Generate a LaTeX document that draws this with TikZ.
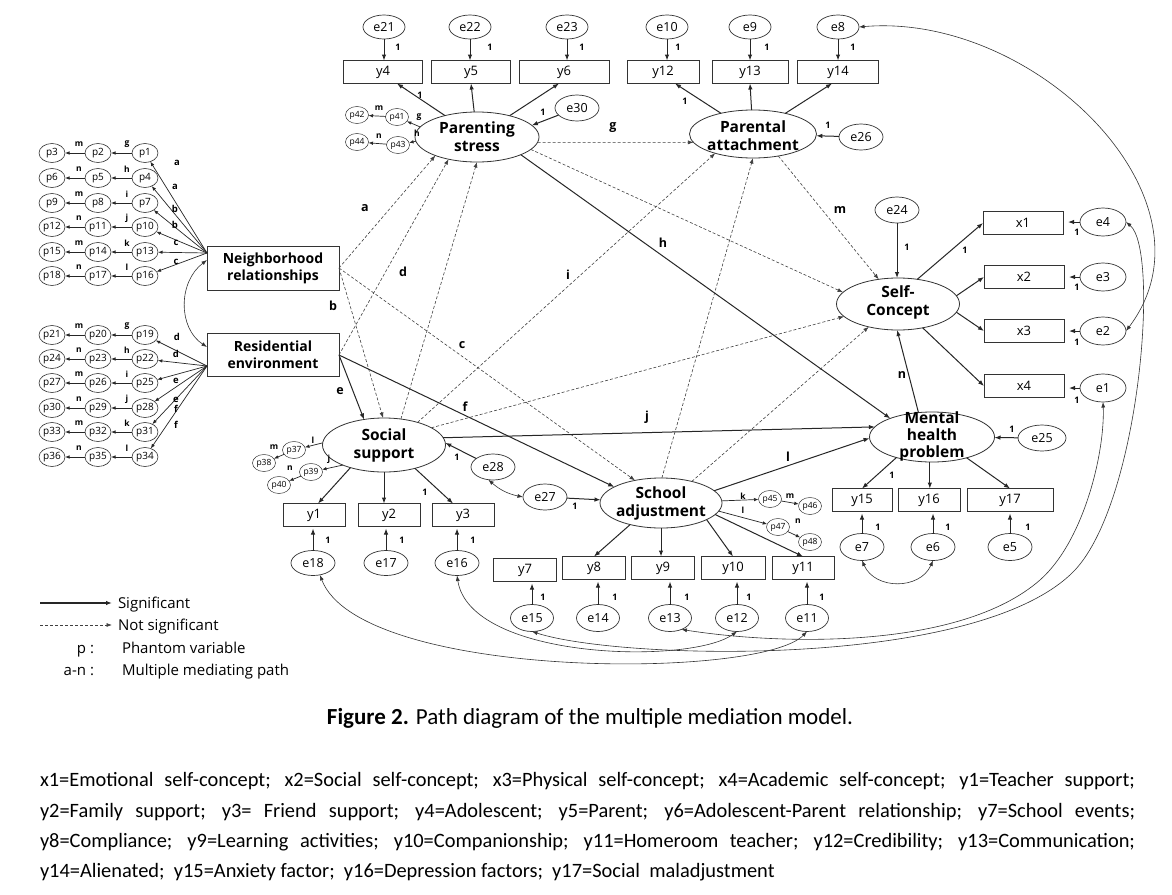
\documentclass[tikz,border=0pt]{standalone}
\usepackage{fontspec}
\setmainfont{Open Sans}
\newfontfamily\capfont{Carlito}
\usetikzlibrary{shapes.geometric,arrows.meta,calc}
\tikzset{
  every node/.style={inner sep=0pt, outer sep=0pt},
  lat/.style={ellipse, draw=black!80, line width=0.8pt},
  lattxt/.style={align=center, font=\fontsize{15.5}{18}\selectfont\bfseries},
  boxtxt/.style={rectangle, draw=black!80, line width=0.8pt, align=center, font=\fontsize{14}{17}\selectfont\bfseries},
  err/.style={ellipse, draw=black!80, line width=0.7pt, minimum width=44pt, minimum height=26pt, font=\fontsize{12.5}{14}\selectfont},
  ph/.style={ellipse, draw=black!80, line width=0.6pt, minimum width=26pt, minimum height=19pt, font=\fontsize{10}{11}\selectfont},
  sph/.style={ellipse, draw=black!80, line width=0.5pt, minimum width=23pt, minimum height=17pt, font=\fontsize{8.5}{9}\selectfont},
  ind/.style={rectangle, draw=black!80, line width=0.8pt, minimum height=23pt, font=\fontsize{13}{15}\selectfont},
  one/.style={font=\fontsize{9}{10}\selectfont\bfseries},
  plab/.style={font=\fontsize{12.5}{13}\selectfont\bfseries},
  slab/.style={font=\fontsize{8.5}{9}\selectfont\bfseries},
  leg/.style={font=\fontsize{15}{17}\selectfont},
  arr/.style={draw=black!85, line width=1pt, -{Latex[length=6pt,width=4.5pt]}},
  darr/.style={draw=black!75, line width=0.6pt, dash pattern=on 3pt off 2pt, -{Latex[length=5.5pt,width=4pt]}},
  sarr/.style={draw=black!85, line width=0.7pt, -{Latex[length=4.5pt,width=3.5pt]}},
  cov/.style={draw=black!80, line width=0.6pt, {Latex[length=5.5pt,width=4pt]}-{Latex[length=5.5pt,width=4pt]}},
  note/.style={anchor=west, font=\capfont\fontsize{20.4}{23}\selectfont},
}
\begin{document}
\begin{tikzpicture}[x=1pt,y=-1pt]
\useasboundingbox (0,0) rectangle (1172,894);
\fill[white] (0,0) rectangle (1172,894);

% ---- latent variables
\node[lat, minimum width=124pt, minimum height=50pt] (PS) at (477,137) {};
\node[lattxt] (PSt) at (477,137) {Parenting\\stress};
\node[lat, minimum width=127pt, minimum height=48pt] (PA) at (753,134) {};
\node[lattxt] (PAt) at (753,136) {Parental\\attachment};
\node[lat, minimum width=123pt, minimum height=54pt] (SS) at (384,445) {};
\node[lattxt] (SSt) at (384,445) {Social\\support};
\node[lat, minimum width=122pt, minimum height=50pt] (SA) at (661,503) {};
\node[lattxt] (SAt) at (661,503) {School\\adjustment};
\node[lat, minimum width=123pt, minimum height=52pt] (SC) at (898,304) {};
\node[lattxt] (SCt) at (898,302) {Self-\\Concept};
\node[lat, minimum width=125pt, minimum height=50pt] (MH) at (932,437) {};
\node[lattxt, font=\fontsize{15.5}{17}\selectfont\bfseries] (MHt) at (932,436) {Mental\\health\\problem};

% ---- exogenous boxes
\node[boxtxt, minimum width=132pt, minimum height=44pt] (NR) at (273,268) {Neighborhood\\relationships};
\node[boxtxt, minimum width=132pt, minimum height=43pt] (RE) at (273,355) {Residential\\environment};

% ---- indicators
\node[ind, minimum width=79pt] (y4) at (383,72) {y4};
\node[ind, minimum width=79pt] (y5) at (471,72) {y5};
\node[ind, minimum width=90pt] (y6) at (564,72) {y6};
\node[ind, minimum width=72pt] (y12) at (663,72) {y12};
\node[ind, minimum width=76pt] (y13) at (750,72) {y13};
\node[ind, minimum width=81pt] (y14) at (838,72) {y14};
\node[ind, minimum width=62pt] (y1) at (314,515) {y1};
\node[ind, minimum width=62pt] (y2) at (389,515) {y2};
\node[ind, minimum width=62pt] (y3) at (463,515) {y3};
\node[ind, minimum width=63pt] (y7) at (525,570) {y7};
\node[ind, minimum width=63pt] (y8) at (594,568) {y8};
\node[ind, minimum width=63pt] (y9) at (663,568) {y9};
\node[ind, minimum width=64pt] (y10) at (733,568) {y10};
\node[ind, minimum width=62pt] (y11) at (803,568) {y11};
\node[ind, minimum width=60pt] (y15) at (862,500) {y15};
\node[ind, minimum width=62pt] (y16) at (929,500) {y16};
\node[ind, minimum width=86pt] (y17) at (1010,500) {y17};
\node[ind, minimum width=80pt] (x1) at (1023,223) {x1};
\node[ind, minimum width=80pt] (x2) at (1024,277) {x2};
\node[ind, minimum width=80pt] (x3) at (1024,331) {x3};
\node[ind, minimum width=80pt] (x4) at (1024,386) {x4};

% ---- error terms
\foreach \n/\x in {e21/384,e22/470,e23/567,e10/667,e9/750,e8/838}
  \node[err, minimum width=42pt, minimum height=24pt] (\n) at (\x,27) {\n};
\foreach \n/\x in {e18/313,e17/386,e16/457}
  \node[err, minimum height=25pt] (\n) at (\x,563) {\n};
\foreach \n/\x in {e15/532,e14/598,e13/670,e12/737,e11/807}
  \node[err, minimum width=43pt, minimum height=27pt] (\n) at (\x,618) {\n};
\foreach \n/\x in {e7/862,e6/933,e5/1010}
  \node[err, minimum height=27pt] (\n) at (\x,547) {\n};
\foreach \n/\y in {e4/222,e3/277,e2/331,e1/388}
  \node[err, minimum width=46pt, minimum height=28pt] (\n) at (1103,\y) {\n};
\node[err] (e24) at (897,210) {e24};
\node[err, minimum width=48pt] (e25) at (1042,438) {e25};
\node[err] (e26) at (861,137) {e26};
\node[err] (e27) at (545,497) {e27};
\node[err] (e28) at (493,467) {e28};
\node[err] (e30) at (577,108) {e30};

% ---- left phantom variables
\foreach \r/\y/\f/\s in {0/153/g/m,1/178/h/n,2/203/i/m,3/227/j/n,4/252/k/m,5/276/l/n,
                         6/335/g/m,7/359/h/n,8/383/i/m,9/408/j/n,10/432/k/m,11/457/l/n}{
  \pgfmathtruncatemacro{\na}{3*\r+1}
  \pgfmathtruncatemacro{\nb}{3*\r+2}
  \pgfmathtruncatemacro{\nc}{3*\r+3}
  \node[ph] (p\na) at (145,\y) {p\na};
  \node[ph] (p\nb) at (98,\y) {p\nb};
  \node[ph] (p\nc) at (52,\y) {p\nc};
  \draw[sarr] (p\na) -- (p\nb);
  \draw[sarr] (p\nb) -- (p\nc);
  \node[slab] (lf\na) at (127,\y-9) {\f};
  \node[slab] (ls\na) at (79,\y-9) {\s};
}
\coordinate (nrc) at (207,253);
\coordinate (rec) at (207,366);
\foreach \k in {1,4,7,10,13,16} \draw[sarr] (nrc) -- (p\k);
\foreach \k in {19,22,25,28,31,34} \draw[sarr] (rec) -- (p\k);
\foreach \t/\x/\y [count=\c] in {a/177/163,a/175/187,b/175/209,b/175/225,c/176/243,c/176/262,
                                 d/177/337,d/176/354,e/176/381,e/176/400,f/176/409,f/176/425}
  \node[font=\fontsize{9.5}{10}\selectfont\bfseries] (pl\c) at (\x,\y) {\t};
\draw[cov] ([yshift=8pt]NR.west) .. controls (178,282) and (178,328) .. ([yshift=8pt]RE.west);

% ---- small phantoms
\node[sph] (p41) at (397,117) {p41};
\node[sph] (p42) at (357,115) {p42};
\node[sph] (p43) at (398,145) {p43};
\node[sph] (p44) at (357,142) {p44};
\draw[sarr] (PS.170) -- (p41); \draw[sarr] (PS.184) -- (p43);
\draw[sarr] (p41) -- (p42); \draw[sarr] (p43) -- (p44);
\node[slab] (l41m) at (379,108) {m}; \node[slab] (l41g) at (419,117) {g};
\node[slab] (l43n) at (379,136) {n}; \node[slab] (l43h) at (417,133) {h};

\node[sph] (p37) at (294,450) {p37};
\node[sph] (p38) at (264,463) {p38};
\node[sph] (p39) at (311,472) {p39};
\node[sph] (p40) at (279,485) {p40};
\draw[sarr] (SS.178) -- (p37); \draw[sarr] (SS.206) -- (p39);
\draw[sarr] (p37) -- (p38); \draw[sarr] (p39) -- (p40);
\node[slab] (l37l) at (313,440) {l}; \node[slab] (l37m) at (274,447) {m};
\node[slab] (l39j) at (329,459) {j}; \node[slab] (l39n) at (290,468) {n};

\node[sph] (p45) at (770,499) {p45};
\node[sph] (p46) at (810,506) {p46};
\node[sph] (p47) at (778,527) {p47};
\node[sph] (p48) at (810,542) {p48};
\draw[sarr] (SA.2) -- (p45); \draw[sarr] (SA.-8) -- (p47);
\draw[sarr] (p45) -- (p46); \draw[sarr] (p47) -- (p48);
\node[slab] (l45k) at (743,496) {k}; \node[slab] (l45m) at (790,496) {m};
\node[slab] (l47l) at (743,510) {l}; \node[slab] (l47n) at (798,521) {n};

% ---- structural paths
\draw[darr] (NR.east) -- (PS.204);
\draw[darr] (NR.east) -- (SS.92);
\draw[darr] (NR.east) -- (SA.139);
\draw[darr] (RE.east) -- (PS.218);
\draw[arr] (RE.east) -- (SS.128);
\draw[arr] (RE.east) -- (SA.161);
\draw[darr] (PS.-5) -- (PA.188);
\draw[arr] (PS.-22) -- (MH.156);
\draw[darr] (SS.34) -- (PA.207);
\draw[arr] (SS.7) -- (MH.170);
\draw[darr] (SS.57) -- (PS.270);
\draw[darr] (SS.20) -- (SC.193);
\draw[darr] (SA.88) -- (PA.270);
\draw[darr] (SA.35) -- (SC.218);
\draw[arr] (SA.13) -- (MH.181);
\draw[darr] (PA.-41) -- (SC.128);
\draw[darr] (PS.-13) -- (SC.168);
\draw[arr] (MH.119) -- (SC.268);

% ---- loadings
\draw[arr] (PS) -- ([xshift=14pt]y4.south);
\draw[arr] (PS) -- (y5.south);
\draw[arr] (PS) -- ([xshift=-5pt]y6.south);
\draw[arr] (PA) -- ([xshift=12pt]y12.south);
\draw[arr] (PA) -- (y13.south);
\draw[arr] (PA) -- ([xshift=-6pt]y14.south);
\draw[arr] (SS.214) -- ([xshift=4pt]y1.north);
\draw[arr] (SS.south) -- (SS.south |- y2.north);
\draw[arr] (SS.-37) -- ([xshift=-10pt]y3.north);
\draw[arr] (SA.215) -- (y8.north);
\draw[arr] (SA.south) -- (SA.south |- y9.north);
\draw[arr] (SA.-20) -- (y10.north);
\draw[arr] (SA.-12) -- (y11.north);
\draw[arr] (MH.210) -- (y15.north);
\draw[arr] (MH.265) -- (MH.265 |- y16.north);
\draw[arr] (MH.-31) -- (y17.north);
\draw[arr] (SC.52) -- (x1.west);
\draw[arr] (SC.8) -- (x2.west);
\draw[arr] (SC.-8) -- (x3.west);
\draw[arr] (SC.-44) -- (x4.west);

% ---- error arrows
\foreach \e/\y in {e21/y4,e22/y5,e23/y6,e10/y12,e9/y13,e8/y14}
  \draw[arr] (\e.south) -- (\e.south |- \y.north);
\foreach \e/\y in {e18/y1,e17/y2,e16/y3,e15/y7,e14/y8,e13/y9,e12/y10,e11/y11,e7/y15,e6/y16,e5/y17}
  \draw[arr, shorten >=2pt] (\e.north) -- (\e.north |- \y.south);
\foreach \e/\x in {e4/x1,e3/x2,e2/x3,e1/x4}
  \draw[arr, shorten >=5pt] (\e.west) -- (\e.west -| \x.east);
\draw[arr] (e24.south) -- (e24.south |- SC.north);
\draw[arr] (e26) -- (PA);
\draw[arr] (e30) -- (PS.12);
\draw[arr] (e25) -- (MH);
\draw[arr] (e27) -- (SA.177);
\draw[arr] (e28) -- (SS.2);

% ---- covariances
\draw[cov] (e8.east) .. controls (1035,12) and (1225,200) .. (e2.east);
\draw[cov] (e15.south) .. controls (620,660) and (980,670) .. (1075,570) .. controls (1140,500) and (1160,250) .. (e4.east);
\draw[cov] (e13.-45) .. controls (780,645) and (960,650) .. (1040,580) .. controls (1085,540) and (1105,450) .. (e1.south);
\draw[cov] (e16.south) .. controls (470,660) and (690,665) .. (e12.south);
\draw[cov] (e18.-60) .. controls (360,680) and (760,680) .. (e11.south);
\draw[cov] (e7.south) .. controls (875,590) and (920,590) .. (e6.south);
\draw[cov] (e28.-110) to[bend right=15] (e27.west);

% ---- "1" labels
\foreach \x/\y [count=\c] in {398/47,490/47,582/47,678/47,767/47,853/47,420/95,685/101,543/112,828/125,
   907/247,965/250,1077/232,1077/287,1077/342,1077/400,1012/429,892/475,878/527,948/527,1028/527,
   425/492,457/457,575/506,328/540,402/540,473/540,543/597,615/597,687/597,749/597,822/597}
  \node[one] (one\c) at (\x,\y) {1};

% ---- path letters
\foreach \t/\x/\y [count=\c] in {a/365/208,d/403/272,b/333/306,i/568/275,c/462/345,e/340/391,f/465/407,
   j/647/417,h/663/243,m/840/210,l/788/457,g/613/128,n/902/375}
  \node[plab] (pt\c) at (\x,\y) {\t};

% ---- legend
\coordinate (lg1a) at (40,603); \coordinate (lg1b) at (112,603);
\draw[arr, line width=1.2pt] (lg1a) -- (lg1b);
\node[leg, anchor=base west] (lgt1) at (118,608) {Significant};
\coordinate (lg2a) at (40,625); \coordinate (lg2b) at (112,625);
\draw[darr] (lg2a) -- (lg2b);
\node[leg, anchor=base west] (lgt2) at (118,630) {Not significant};
\node[leg, anchor=base east] (lgt3) at (94,653) {p :};
\node[leg, anchor=base west] (lgt4) at (122,653) {Phantom variable};
\node[leg, anchor=base east] (lgt5) at (94,675) {a-n :};
\node[leg, anchor=base west] (lgt6) at (122,675) {Multiple mediating path};

% ---- caption and notes
\node[font=\capfont\fontsize{23}{26}\selectfont] (cap) at (590,718) {\textbf{Figure 2.} Path diagram of the multiple mediation model.};
\node[note] (fn1) at (40,781) {\makebox[1095pt][s]{x1=Emotional self-concept; x2=Social self-concept; x3=Physical self-concept; x4=Academic self-concept; y1=Teacher support;}};
\node[note] (fn2) at (40,812) {\makebox[1095pt][s]{y2=Family support; y3= Friend support; y4=Adolescent; y5=Parent; y6=Adolescent-Parent relationship; y7=School events;}};
\node[note] (fn3) at (40,842) {\makebox[1095pt][s]{y8=Compliance; y9=Learning activities; y10=Companionship; y11=Homeroom teacher; y12=Credibility; y13=Communication;}};
\node[note] (fn4) at (40,872) {y14=Alienated;\ \ y15=Anxiety factor;\ \ y16=Depression factors;\ \ y17=Social\ \ maladjustment};
\end{tikzpicture}
\end{document}
